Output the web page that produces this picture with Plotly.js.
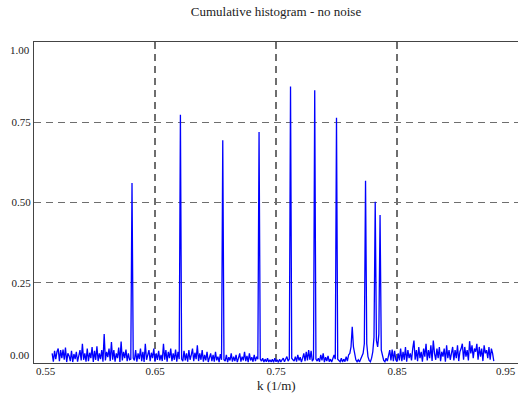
<!DOCTYPE html>
<html>
<head>
<meta charset="utf-8">
<script src="https://cdn.plot.ly/plotly-3.0.1.min.js"></script>
<style>html,body{margin:0;padding:0;background:#fff;}#chart{width:518px;height:396px;}</style>
</head>
<body>
<div id="chart"></div>
<script>
// Sampling of the wavenumber axis (1/m)
const kStart = 0.565;
const kStep = 0.001;

// Cumulative histogram values, one per k sample from kStart
const histValues = [
  0.030,0.004,0.038,0.012,0.035,0.045,0.006,0.040,0.015,0.042,
  0.010,0.048,0.003,0.030,0.022,0.006,0.038,0.003,0.028,0.012,
  0.035,0.004,0.022,0.040,0.008,0.060,0.010,0.030,0.004,0.045,
  0.006,0.032,0.015,0.050,0.003,0.038,0.010,0.052,0.006,0.030,
  0.012,0.040,0.004,0.090,0.008,0.035,0.018,0.045,0.006,0.065,
  0.010,0.040,0.004,0.030,0.015,0.048,0.003,0.067,0.008,0.035,
  0.015,0.042,0.006,0.030,0.010,0.012,0.561,0.015,0.008,0.040,
  0.004,0.030,0.012,0.045,0.006,0.035,0.003,0.060,0.010,0.028,
  0.040,0.006,0.032,0.015,0.045,0.004,0.030,0.010,0.038,0.008,
  0.025,0.006,0.060,0.010,0.040,0.004,0.035,0.015,0.045,0.006,
  0.030,0.010,0.042,0.004,0.035,0.012,0.773,0.012,0.006,0.038,
  0.008,0.030,0.004,0.040,0.010,0.025,0.045,0.006,0.032,0.012,
  0.055,0.006,0.030,0.010,0.040,0.004,0.025,0.008,0.035,0.003,
  0.020,0.030,0.006,0.025,0.004,0.035,0.008,0.020,0.003,0.028,
  0.010,0.694,0.010,0.006,0.025,0.003,0.018,0.008,0.030,0.004,
  0.020,0.006,0.025,0.003,0.015,0.030,0.004,0.020,0.008,0.035,
  0.006,0.022,0.003,0.030,0.008,0.018,0.004,0.025,0.006,0.020,
  0.012,0.720,0.012,0.006,0.015,0.003,0.012,0.004,0.015,0.003,
  0.010,0.003,0.012,0.002,0.015,0.004,0.010,0.002,0.012,0.003,
  0.010,0.015,0.004,0.012,0.020,0.006,0.012,0.861,0.015,0.010,
  0.006,0.020,0.004,0.025,0.008,0.018,0.003,0.015,0.030,0.006,
  0.035,0.008,0.040,0.010,0.038,0.006,0.012,0.850,0.012,0.006,
  0.015,0.004,0.025,0.008,0.030,0.003,0.018,0.006,0.022,0.004,
  0.012,0.003,0.015,0.025,0.012,0.764,0.012,0.008,0.004,0.015,
  0.003,0.012,0.004,0.020,0.006,0.025,0.030,0.050,0.113,0.050,
  0.025,0.010,0.004,0.010,0.003,0.012,0.020,0.030,0.060,0.568,
  0.060,0.020,0.008,0.004,0.015,0.035,0.080,0.502,0.070,0.050,
  0.090,0.461,0.040,0.020,0.008,0.004,0.015,0.006,0.020,0.040,
  0.008,0.042,0.006,0.038,0.010,0.004,0.030,0.008,0.045,0.006,
  0.035,0.010,0.050,0.004,0.040,0.015,0.030,0.008,0.045,0.070,
  0.010,0.040,0.006,0.050,0.015,0.035,0.004,0.045,0.020,0.060,
  0.008,0.040,0.015,0.055,0.006,0.070,0.030,0.010,0.045,0.015,
  0.050,0.006,0.035,0.020,0.045,0.004,0.055,0.015,0.040,0.010,
  0.030,0.050,0.008,0.040,0.015,0.055,0.006,0.035,0.045,0.060,
  0.010,0.050,0.020,0.040,0.008,0.068,0.030,0.055,0.015,0.045,
  0.035,0.060,0.010,0.050,0.020,0.045,0.006,0.055,0.030,0.040,
  0.015,0.050,0.010,0.045,0.030,0.006
];

// Axes
const xRange = [0.55, 0.95];
const yRange = [0, 1];
const xTickVals = [0.55, 0.65, 0.75, 0.85, 0.95];
const xTickText = ["0.55", "0.65", "0.75", "0.85", "0.95"];
const yTickVals = [0, 0.25, 0.5, 0.75, 1];
const yTickText = ["0.00", "0.25", "0.50", "0.75", "1.00"];
const xTitle = "k (1/m)";
const chartTitle = "Cumulative histogram - no noise";

const FONT = "Liberation Serif";
const TXT = "#222";

const trace = {
  type: "scatter",
  mode: "lines",
  x0: kStart,
  dx: kStep,
  y: histValues,
  line: {color: "#0000ff", width: 1.3},
  hoverinfo: "skip"
};

// Inner tick labels drawn by the axes; edge labels placed inside the frame as annotations
const innerX = xTickVals.slice(1, -1), innerXT = xTickText.slice(1, -1);
const innerY = yTickVals.slice(1, -1), innerYT = yTickText.slice(1, -1);

const annotations = [
  {x: xTickVals[0], y: 0, xref: "x", yref: "paper", text: xTickText[0], showarrow: false,
   xanchor: "left", yanchor: "top", yshift: 0, font: {family: FONT, size: 11, color: TXT}},
  {x: xTickVals[xTickVals.length-1], y: 0, xref: "x", yref: "paper", text: xTickText[xTickText.length-1], showarrow: false,
   xanchor: "right", yanchor: "top", yshift: 0, font: {family: FONT, size: 11, color: TXT}},
  {x: 0, y: yTickVals[0], xref: "paper", yref: "y", text: yTickText[0], showarrow: false,
   xanchor: "right", yanchor: "bottom", xshift: -2, font: {family: FONT, size: 11, color: TXT}},
  {x: 0, y: yTickVals[yTickVals.length-1], xref: "paper", yref: "y", text: yTickText[yTickText.length-1], showarrow: false,
   xanchor: "right", yanchor: "top", xshift: -2, font: {family: FONT, size: 11, color: TXT}},
  {x: 0.5, y: 0, xref: "paper", yref: "paper", text: xTitle, showarrow: false,
   xanchor: "center", yanchor: "middle", yshift: -22, font: {family: FONT, size: 13, color: TXT}}
];

const layout = {
  width: 518, height: 396,
  margin: {l: 34, r: 0, t: 42, b: 33, pad: 0},
  paper_bgcolor: "#fff", plot_bgcolor: "#fff",
  showlegend: false,
  font: {family: FONT, size: 11, color: TXT},
  title: {text: chartTitle, font: {family: FONT, size: 13, color: TXT},
          x: 0.5, xref: "paper", y: 1, yref: "container", yanchor: "top", pad: {t: 7}},
  xaxis: {
    range: xRange, tickmode: "array", tickvals: innerX, ticktext: innerXT,
    ticks: "", showgrid: true, gridcolor: "#6e6e6e", griddash: "7px,5px", gridwidth: 1.2,
    zeroline: false, showline: true, linecolor: "#444", linewidth: 1, mirror: true,
    tickfont: {family: FONT, size: 11, color: TXT}, ticklabelstandoff: -2
  },
  yaxis: {
    range: yRange, tickmode: "array", tickvals: innerY, ticktext: innerYT,
    ticks: "", showgrid: true, gridcolor: "#6e6e6e", griddash: "7px,5px", gridwidth: 1.2,
    zeroline: false, showline: true, linecolor: "#444", linewidth: 1, mirror: true,
    tickfont: {family: FONT, size: 11, color: TXT}
  },
  annotations: annotations
};

Plotly.newPlot("chart", [trace], layout, {displayModeBar: false, staticPlot: true});
</script>
</body>
</html>
